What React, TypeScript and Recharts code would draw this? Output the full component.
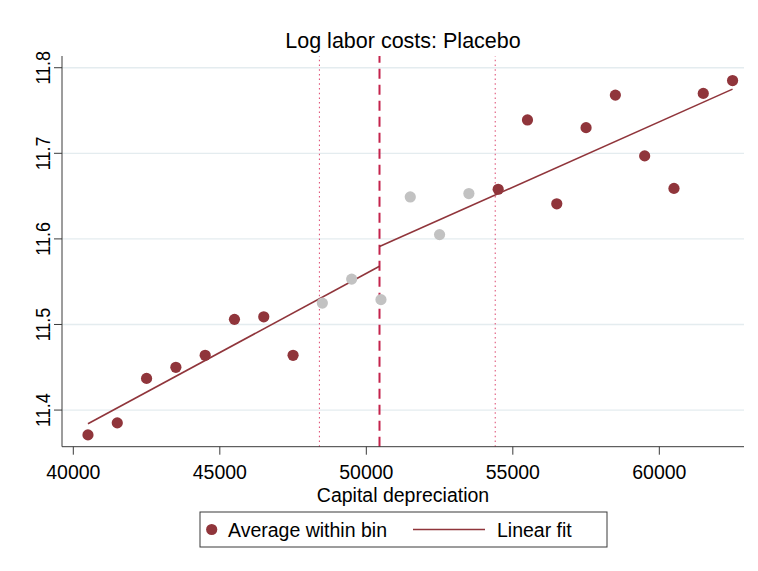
import React from 'react';
import {
  ComposedChart,
  Scatter,
  Line,
  XAxis,
  YAxis,
  ReferenceLine,
  Customized,
} from 'recharts';

// Bin midpoints (capital depreciation) and average log labor costs per bin
const binCenters = [
  40500, 41500, 42500, 43500, 44500, 45500, 46500, 47500, 48500, 49500, 50500, 51500,
  52500, 53500, 54500, 55500, 56500, 57500, 58500, 59500, 60500, 61500, 62500,
];
const binMeans = [
  11.371, 11.385, 11.437, 11.45, 11.464, 11.506, 11.509, 11.464, 11.525, 11.553, 11.529,
  11.649, 11.605, 11.653, 11.658, 11.739, 11.641, 11.73, 11.768, 11.697, 11.659, 11.77,
  11.785,
];

// Placebo cutoff and the excluded window around it
const cutoff = 50450;
const windowLow = 48400;
const windowHigh = 54400;

// Linear fit endpoints on either side of the cutoff
const leftFitX = [40500, 50450];
const leftFitY = [11.384, 11.568];
const rightFitX = [50450, 62500];
const rightFitY = [11.591, 11.775];

const xTicks = [40000, 45000, 50000, 55000, 60000];
const yTicks = [11.4, 11.5, 11.6, 11.7, 11.8];

const RED = '#90353b';
const GREY = '#c2c2c2';
const FONT = '"Liberation Sans", Arial, sans-serif';

const binned = binCenters.map((x, i) => ({ x, y: binMeans[i] }));
const insideBins = binned.filter((d) => d.x > windowLow && d.x < windowHigh);
const outsideBins = binned.filter((d) => !(d.x > windowLow && d.x < windowHigh));
const leftFit = leftFitX.map((x, i) => ({ x, y: leftFitY[i] }));
const rightFit = rightFitX.map((x, i) => ({ x, y: rightFitY[i] }));

const Dot = (color: string) => (p: any) => (
  <circle cx={p.cx} cy={p.cy} r={5.6} fill={color} stroke="none" />
);

const YTick = (p: any) => (
  <text
    transform={`translate(${p.x},${p.y}) rotate(-90) scale(1,1.16)`}
    textAnchor="middle"
    fontFamily={FONT}
    fontSize={18}
    fill="#000"
  >
    {p.payload.value.toFixed(1)}
  </text>
);

const Decorations = () => (
  <g fontFamily={FONT} fill="#000">
    <text x={403} y={48} textAnchor="middle" fontSize={21.5}>
      Log labor costs: Placebo
    </text>
    <text x={403} y={502} textAnchor="middle" fontSize={19.5}>
      Capital depreciation
    </text>
    <rect x={200} y={512} width={407} height={35} fill="#fff" stroke="#3a3a3a" strokeWidth={1} />
    <circle cx={211.7} cy={529.5} r={5.6} fill={RED} />
    <text x={228} y={537} fontSize={19.5}>
      Average within bin
    </text>
    <line x1={413} y1={529.5} x2={485} y2={529.5} stroke={RED} strokeWidth={1.6} />
    <text x={497} y={537} fontSize={19.5}>
      Linear fit
    </text>
  </g>
);

export default function App() {
  return (
    <div style={{ position: 'absolute', left: 0, top: 0, background: '#fff' }}>
      <ComposedChart
        width={758}
        height={571}
        margin={{ top: 56, right: 14, bottom: 64.3, left: 0 }}
        style={{ fontFamily: FONT }}
      >
        <XAxis
          type="number"
          dataKey="x"
          domain={[39614, 62890]}
          allowDataOverflow
          ticks={xTicks}
          height={60}
          tickSize={8}
          tickMargin={10}
          stroke="#3a3a3a"
          tick={{ fill: '#000', fontSize: 19.5, fontFamily: FONT }}
        />
        <YAxis
          type="number"
          dataKey="y"
          domain={[11.3572, 11.8137]}
          allowDataOverflow
          ticks={yTicks}
          width={62}
          tickSize={8}
          tickMargin={4}
          stroke="#3a3a3a"
          tick={YTick}
        />
        {yTicks.map((t) => (
          <ReferenceLine key={t} y={t} stroke="#e4ecef" strokeWidth={1.3} />
        ))}
        <ReferenceLine x={windowLow} stroke="#e0577b" strokeWidth={1.1} strokeDasharray="1.5 3.2" />
        <ReferenceLine x={windowHigh} stroke="#e0577b" strokeWidth={1.1} strokeDasharray="1.5 3.2" />
        <ReferenceLine x={cutoff} stroke="#c4234c" strokeWidth={2} strokeDasharray="10 6" />
        <Scatter data={outsideBins} fill={RED} shape={Dot(RED)} isAnimationActive={false} />
        <Scatter data={insideBins} fill={GREY} shape={Dot(GREY)} isAnimationActive={false} />
        <Line
          data={leftFit}
          dataKey="y"
          type="linear"
          stroke={RED}
          strokeWidth={1.6}
          dot={false}
          activeDot={false}
          isAnimationActive={false}
        />
        <Line
          data={rightFit}
          dataKey="y"
          type="linear"
          stroke={RED}
          strokeWidth={1.6}
          dot={false}
          activeDot={false}
          isAnimationActive={false}
        />
        <Customized component={Decorations} />
      </ComposedChart>
    </div>
  );
}
